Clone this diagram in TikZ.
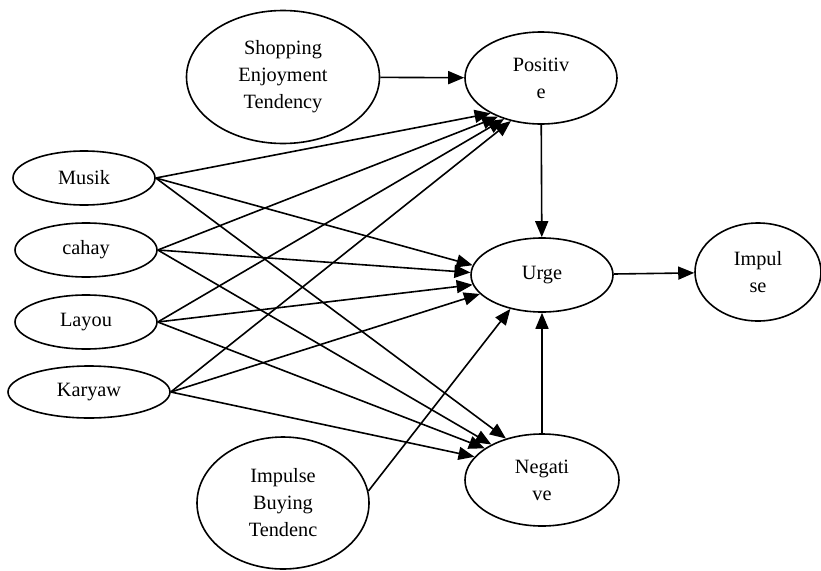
\documentclass[tikz,border=0pt]{standalone}
\usepackage{fontspec}
\setmainfont{Liberation Serif}
\usetikzlibrary{arrows.meta,shapes.geometric}
\begin{document}
\begin{tikzpicture}[x=1pt,y=-1pt,line width=1.6pt]
                \tikzset{>={Triangle[length=16pt,width=13pt]}}
                \tikzset{var/.style={draw,ellipse,inner sep=0pt,align=center,
                    font=\fontsize{20.3}{27}\selectfont}}
                \useasboundingbox (0,0) rectangle (821,570);

                \node[var,minimum width=193pt,minimum height=133pt] (shop) at (283,77) {Shopping\\Enjoyment\\Tendency};
                \node[var,minimum width=152pt,minimum height=92pt] (pos) at (541,78) {Positiv\\e};
                \node[var,minimum width=142pt,minimum height=54pt] (musik) at (84,178) {Musik};
                \node[var,minimum width=142pt,minimum height=54pt] (cahay) at (86,250) {cahay};
                \node[var,minimum width=142pt,minimum height=54pt] (layou) at (86,322) {Layou};
                \node[var,minimum width=162pt,minimum height=52pt] (karyaw) at (89,392) {Karyaw};
                \node[var,minimum width=142pt,minimum height=74pt] (urge) at (542,275) {Urge};
                \node[var,minimum width=126pt,minimum height=98pt] (impulse) at (758,272) {Impul\\se};
                \node[var,minimum width=172pt,minimum height=132pt] (ibt) at (283,503) {Impulse\\Buying\\Tendenc};
                \node[var,minimum width=154pt,minimum height=92pt] (neg) at (542,480) {Negati\\ve};

                \draw[->] (shop) -- (pos);
                \draw[->] (pos) -- (urge);
                \draw[->] (neg) -- (urge);
                \draw[->] (urge) -- (impulse);

                \draw[->] (musik.east) -- (pos.215);
                \draw[->] (musik.east) -- (urge.172);
                \draw[->] (musik.east) -- (neg.131);
                \draw[->] (cahay.east) -- (pos.222);
                \draw[->] (cahay.east) -- (urge.178);
                \draw[->] (cahay.east) -- (neg.145);
                \draw[->] (layou.east) -- (pos.228);
                \draw[->] (layou.east) -- (urge.188);
                \draw[->] (layou.east) -- (neg.151);
                \draw[->] (karyaw.east) -- (pos.235);
                \draw[->] (karyaw.east) -- (urge.197);
                \draw[->] (karyaw.east) -- (neg.161);
                \draw[->] (ibt.8) -- (urge.227);
            \end{tikzpicture}
\end{document}
